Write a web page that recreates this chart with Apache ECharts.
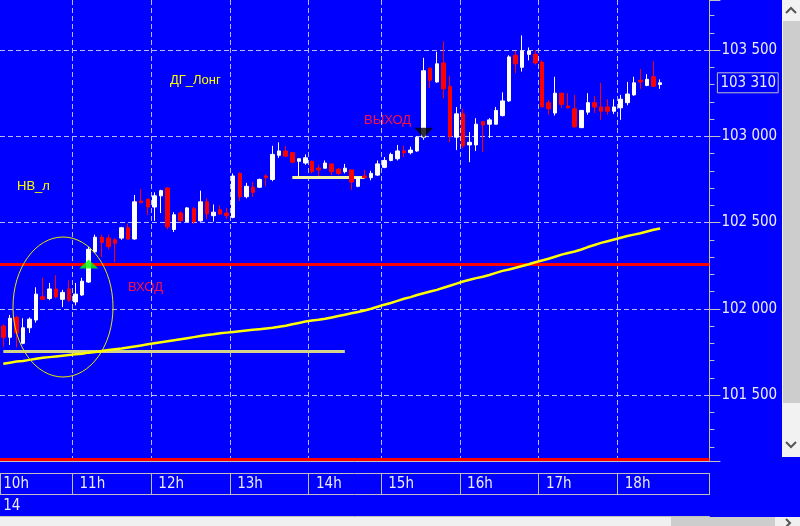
<!DOCTYPE html>
<html><head><meta charset="utf-8">
<script src="https://cdn.jsdelivr.net/npm/echarts@6/dist/echarts.min.js"></script>
<style>html,body{margin:0;padding:0;background:#0000ff;}#c{width:800px;height:526px;}</style>
</head><body><div id="c"></div>
<script>
// ---- data ----
const categories = [
 '10:05','10:10','10:15','10:20','10:25','10:30','10:35','10:40','10:45','10:50','10:55',
 '11:00','11:05','11:10','11:15','11:20','11:25','11:30','11:35','11:40','11:45','11:50','11:55',
 '12:00','12:05','12:10','12:15','12:20','12:25','12:30','12:35','12:40','12:45','12:50','12:55',
 '13:00','13:05','13:10','13:15','13:20','13:25','13:30','13:35','13:40','13:45','13:50','13:55',
 '14:00','14:05','14:10','14:15','14:20','14:25','14:30','14:35','14:40','14:45','14:50',
 '15:00','15:05','15:10','15:15','15:20','15:25','15:30','15:35','15:40','15:45','15:50','15:55',
 '16:00','16:05','16:10','16:15','16:20','16:25','16:30','16:35','16:40','16:45','16:50','16:55',
 '17:00','17:05','17:10','17:15','17:20','17:25','17:30','17:35','17:40','17:45','17:50','17:55',
 '18:00','18:05','18:10','18:15','18:20','18:25','18:30','18:35','18:40','18:45','18:50','18:55',
 '19:00','19:05'
];
const hourTicks = ['10h','11h','12h','13h','14h','15h','16h','17h','18h'];
const dateLabel = '14';
const yTickMin = 101115, yTickMax = 103790;

// [open, close, low, high]
const candles = [
[101900,101835,101780,101910],[101835,101945,101790,101965],[101950,101860,101775,101960],[101800,101890,101795,101945],
[101890,101940,101860,101950],[101935,102085,101920,102125],[102070,102055,102055,102180],[102060,102115,102050,102150],
[102115,102070,102060,102195],[102055,102095,102010,102110],[102115,102050,102040,102165],[102040,102085,102020,102150],
[102080,102160,102075,102180],[102155,102345,102150,102360],[102330,102415,102325,102430],[102415,102385,102300,102430],
[102410,102360,102345,102430],[102400,102380,102270,102410],[102410,102470,102400,102475],[102470,102405,102400,102495],
[102405,102620,102400,102660],[102625,102615,102615,102695],[102635,102590,102545,102640],[102590,102655,102510,102675],
[102655,102685,102555,102690],[102700,102475,102460,102705],[102460,102545,102445,102560],[102555,102510,102505,102565],
[102505,102585,102505,102590],[102580,102505,102490,102590],[102510,102620,102505,102685],[102620,102550,102520,102640],
[102540,102560,102505,102605],[102575,102550,102545,102600],[102555,102540,102520,102585],[102530,102770,102525,102785],
[102785,102650,102625,102790],[102650,102710,102640,102730],[102705,102675,102650,102735],[102705,102750,102700,102755],
[102770,102760,102710,102780],[102750,102895,102740,102945],[102890,102915,102875,102965],[102915,102885,102880,102945],
[102905,102850,102845,102910],[102855,102870,102765,102870],[102845,102875,102835,102895],[102855,102795,102785,102860],
[102815,102805,102770,102835],[102815,102845,102815,102860],[102840,102795,102775,102840],[102810,102785,102775,102815],
[102795,102815,102785,102840],[102805,102735,102690,102805],[102710,102760,102705,102760],[102770,102760,102760,102805],
[102760,102785,102745,102800],[102775,102840,102770,102860],[102820,102860,102815,102880],[102860,102895,102855,102905],
[102870,102915,102860,102950],[102915,102905,102880,102945],[102905,102920,102895,102940],[102915,102995,102910,103000],
[102995,103380,102980,103455],[103395,103325,103280,103400],[103315,103420,103310,103490],[103425,103275,103220,103550],
[103290,103000,102965,103350],[102995,103130,102920,103170],[103130,102945,102930,103160],[102950,102965,102850,103025],
[102950,103070,102915,103105],[103085,103065,102910,103085],[103070,103095,102990,103105],[103070,103150,103070,103170],
[103120,103205,103115,103255],[103205,103460,103200,103470],[103470,103420,103365,103495],[103400,103495,103375,103585],
[103475,103495,103440,103515],[103475,103425,103415,103500],[103430,103170,103170,103440],[103195,103160,103125,103210],
[103135,103250,103120,103345],[103250,103185,103165,103250],[103175,103165,103160,103250],[103160,103055,103050,103240],
[103050,103150,103050,103150],[103140,103195,103125,103250],[103195,103170,103135,103235],[103170,103145,103095,103310],
[103170,103145,103125,103215],[103145,103170,103130,103215],[103165,103215,103095,103240],[103195,103245,103180,103315],
[103240,103310,103235,103345],[103325,103315,103275,103390],[103295,103330,103290,103360],[103345,103290,103285,103435],
[103300,103310,103275,103330]
];

const maValues = [
101682,101688,101694,101698,101704,101710,101716,101720,101724,101728,
101732,101736,101740,101746,101750,101756,101762,101766,101770,101776,
101782,101788,101794,101800,101806,101812,101818,101824,101830,101836,
101842,101848,101852,101858,101862,101866,101870,101874,101878,101882,
101886,101890,101896,101902,101910,101918,101926,101932,101936,101942,
101950,101958,101966,101974,101982,101990,102000,102012,102024,102034,
102046,102058,102068,102080,102090,102100,102110,102122,102134,102146,
102158,102168,102178,102186,102196,102208,102220,102228,102238,102248,
102258,102270,102280,102290,102302,102314,102324,102332,102344,102358,
102370,102382,102392,102402,102412,102422,102430,102438,102448,102458,
102466
];

const redLevels = [102260, 101130];
const supportLine = [0, 52, 101755];   // [fromIndex, toIndex, price]
const flatLine = [44, 55, 102765];
const entryTrade = [13, 102260];
const exitTrade = [64, 103020];
const lastClose = candles[candles.length - 1][1];

// ---- style ----
const narrow = "'DejaVu Sans Condensed','Liberation Sans Narrow',sans-serif";
const fs = 15;
const axisGrey = '#c0c0c0';
const gridColor = '#b8b8ff';
const labelColor = '#ececf4';

const fmtPrice = v => { const s = String(Math.round(v)); return s.slice(0, -3) + ' ' + s.slice(-3); };
const hourOf = v => v.slice(0, 2) + 'h';
const isHourStart = i => i === 0 || (categories[i].endsWith(':00') && hourTicks.includes(hourOf(categories[i])));

const chart = echarts.init(document.getElementById('c'), null, {renderer: 'canvas'});

const option = {
  backgroundColor: '#0000ff',
  animation: false,
  grid: {left: -1.3, right: 90.6, top: 0, bottom: 64.5},
  xAxis: [
    {type: 'category', data: categories, boundaryGap: true,
     axisLine: {show: true, lineStyle: {color: axisGrey}}, axisTick: {show: false}, axisLabel: {show: false},
     splitLine: {show: true, interval: i => i > 0 && isHourStart(i), lineStyle: {color: gridColor, type: [5, 3], width: 1}}},
    {type: 'category', data: categories, position: 'bottom', offset: 12, boundaryGap: true,
     axisLine: {show: true, lineStyle: {color: axisGrey}},
     axisTick: {show: true, interval: i => isHourStart(i), length: 21, lineStyle: {color: axisGrey}},
     axisLabel: {show: true, interval: i => isHourStart(i), align: 'left', margin: 3,
       color: labelColor, fontFamily: narrow, fontSize: fs,
       formatter: (v, i) => i === 0 ? '{a|' + hourOf(v) + '}' : '{b|' + hourOf(v) + '}',
       rich: {a: {color: labelColor, fontFamily: narrow, fontSize: fs},
              b: {color: labelColor, fontFamily: narrow, fontSize: fs, padding: [0, 0, 0, 4]}}},
     splitLine: {show: false}},
    {type: 'category', data: categories, position: 'bottom', offset: 33, boundaryGap: true,
     axisLine: {show: true, lineStyle: {color: axisGrey}}, axisTick: {show: false},
     axisLabel: {show: true, interval: i => i === 0, align: 'left', margin: 4, color: labelColor,
       fontFamily: narrow, fontSize: fs, formatter: () => dateLabel},
     splitLine: {show: false}},
    {type: 'category', data: categories, position: 'bottom', offset: 55, boundaryGap: true,
     axisLine: {show: true, lineStyle: {color: axisGrey}}, axisTick: {show: false}, axisLabel: {show: false},
     splitLine: {show: false}}
  ],
  yAxis: {
    type: 'value', position: 'right', min: yTickMin, max: yTickMax, splitNumber: 5, scale: true,
    axisLine: {show: true, lineStyle: {color: axisGrey}},
    axisTick: {show: true, length: 11, lineStyle: {color: axisGrey}},
    minorTick: {show: true, splitNumber: 5, length: 5, lineStyle: {color: axisGrey}},
    axisLabel: {margin: 12, color: labelColor, fontFamily: narrow, fontSize: fs,
      showMinLabel: false, showMaxLabel: false, formatter: fmtPrice},
    splitLine: {show: true, showMinLine: false, showMaxLine: false, lineStyle: {color: gridColor, type: [5, 3]}}
  },
  series: [
    {type: 'line', name: 'MA', data: maValues, symbol: 'none', z: 2, silent: true,
     lineStyle: {color: '#ffff00', width: 2.5},
     markLine: {silent: true, symbol: ['none', 'none'], z: 1, label: {show: false},
       data: [
         {yAxis: redLevels[0], lineStyle: {color: '#ff0000', width: 3, type: 'solid'}},
         {yAxis: redLevels[1], lineStyle: {color: '#ff0000', width: 3, type: 'solid'}},
         [{coord: [supportLine[0], supportLine[2]], lineStyle: {color: '#d4d48a', width: 3, type: 'solid'}},
          {coord: [supportLine[1], supportLine[2]]}],
         [{coord: [flatLine[0], flatLine[2]], lineStyle: {color: '#f4f4a0', width: 3, type: 'solid'}},
          {coord: [flatLine[1], flatLine[2]]}]
       ]}},
    {type: 'candlestick', name: 'Цена', data: candles, barWidth: 4, z: 3, silent: true,
     itemStyle: {color: '#ffffff', color0: '#ff0000', borderColor: '#ffffff', borderColor0: '#ff0000', borderWidth: 1}},
    {type: 'line', name: 'Последняя цена', data: [], symbol: 'none', silent: true, z: 7,
     markLine: {silent: true, symbol: ['none', 'none'], z: 7,
       lineStyle: {color: 'rgba(0,0,0,0)', width: 0},
       label: {show: true, position: 'end', distance: 8, formatter: p => fmtPrice(p.value),
         color: labelColor, fontFamily: narrow, fontSize: fs, borderColor: axisGrey, borderWidth: 1,
         padding: [3, 2, 2, 3]},
       data: [{yAxis: lastClose}]}},
    {type: 'scatter', name: 'Сделки', z: 8, silent: true,
     data: [
       {value: entryTrade, symbol: 'path://M10,0 L20,10 L0,10 Z', symbolSize: [19, 9], itemStyle: {color: '#00ff00'}},
       {value: exitTrade, symbol: 'path://M0,0 L20,0 L10,10 Z', symbolSize: [19, 10], itemStyle: {color: '#000000'}}
     ]}
  ],
  graphic: [
    {type: 'text', x: 170, y: 80, style: {text: 'ДГ_Лонг', fill: '#ffff00', font: "13px 'Liberation Sans', Arial, sans-serif", verticalAlign: 'middle'}},
    {type: 'text', x: 17, y: 186, style: {text: 'НВ_л', fill: '#ffff00', font: "13px 'Liberation Sans', Arial, sans-serif", verticalAlign: 'middle'}},
    {type: 'text', x: 364, y: 120, style: {text: 'ВЫХОД', fill: '#ff1040', font: "13px 'Liberation Sans', Arial, sans-serif", verticalAlign: 'middle'}},
    {type: 'text', x: 128, y: 287, style: {text: 'ВХОД', fill: '#ff1040', font: "13px 'Liberation Sans', Arial, sans-serif", verticalAlign: 'middle'}},
    {type: 'ellipse', shape: {cx: 63, cy: 307, rx: 50, ry: 70}, style: {fill: null, stroke: '#e8e800', lineWidth: 1}, z: 100},
    // vertical scrollbar
    {type: 'rect', shape: {x: 782, y: 0, width: 18, height: 457}, style: {fill: '#f2f2f2'}},
    {type: 'rect', shape: {x: 783, y: 21, width: 17, height: 382}, style: {fill: '#cdcdcd'}},
    {type: 'polyline', shape: {points: [[786, 13], [791, 8], [796, 13]]}, style: {stroke: '#555', lineWidth: 2, fill: null}},
    {type: 'polyline', shape: {points: [[786, 442], [791, 447], [796, 442]]}, style: {stroke: '#555', lineWidth: 2, fill: null}},
    // horizontal scrollbar
    {type: 'rect', shape: {x: 0, y: 517, width: 800, height: 9}, style: {fill: '#f0f0f0'}},
    {type: 'rect', shape: {x: 671, y: 517, width: 104, height: 9}, style: {fill: '#cdcdcd'}},
    {type: 'polyline', shape: {points: [[786, 519], [790, 523], [786, 527]]}, style: {stroke: '#555', lineWidth: 2, fill: null}}
  ]
};
chart.setOption(option);
</script>
</body></html>
